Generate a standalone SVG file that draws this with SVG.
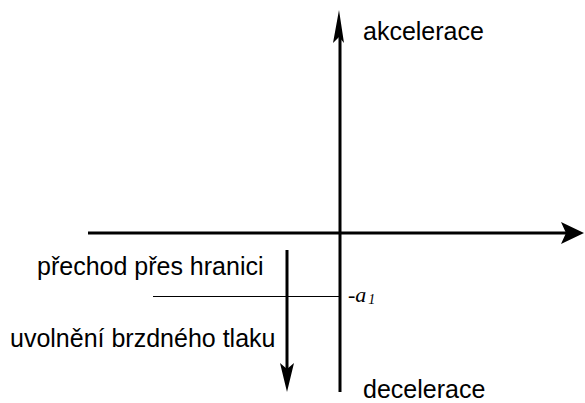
<svg xmlns="http://www.w3.org/2000/svg" width="585" height="403" viewBox="0 0 585 403">
<style>
.lbl{font-family:"Liberation Sans",Arial,sans-serif;font-size:25px;fill:#000}
.ax{stroke:#000;stroke-width:3;fill:none}
.head{fill:#000}
</style>
<rect width="585" height="403" fill="#fff"/>
<g id="connectors">
<line class="ax" x1="88" y1="233" x2="568" y2="233"/>
<path class="head" d="M584,233 L561,222 L566,233 L561,244 Z"/>
<line class="ax" x1="340" y1="392" x2="340" y2="30"/>
<path class="head" d="M339,10 L333,43 L339,37 L344,43 Z"/>
<line class="ax" x1="287" y1="250" x2="287" y2="375"/>
<path class="head" d="M287,392 L280,363 L287,369 L294,363 Z"/>
<line stroke="#000" stroke-width="1" x1="153" y1="296.5" x2="340" y2="296.5"/>
</g>
<g id="akcelerace"><text class="lbl" x="363" y="40">akcelerace</text></g>
<g id="decelerace"><text class="lbl" x="363" y="398">decelerace</text></g>
<g id="prechod"><text class="lbl" x="37" y="275">přechod přes hranici</text></g>
<g id="uvolneni"><text class="lbl" x="10" y="347">uvolnění brzdného tlaku</text></g>
<g id="a1"><text x="348" y="302" font-family="'Liberation Serif','Times New Roman',serif" font-style="italic" font-size="22">-a<tspan font-size="14" dx="2" dy="2">1</tspan></text></g>
</svg>
